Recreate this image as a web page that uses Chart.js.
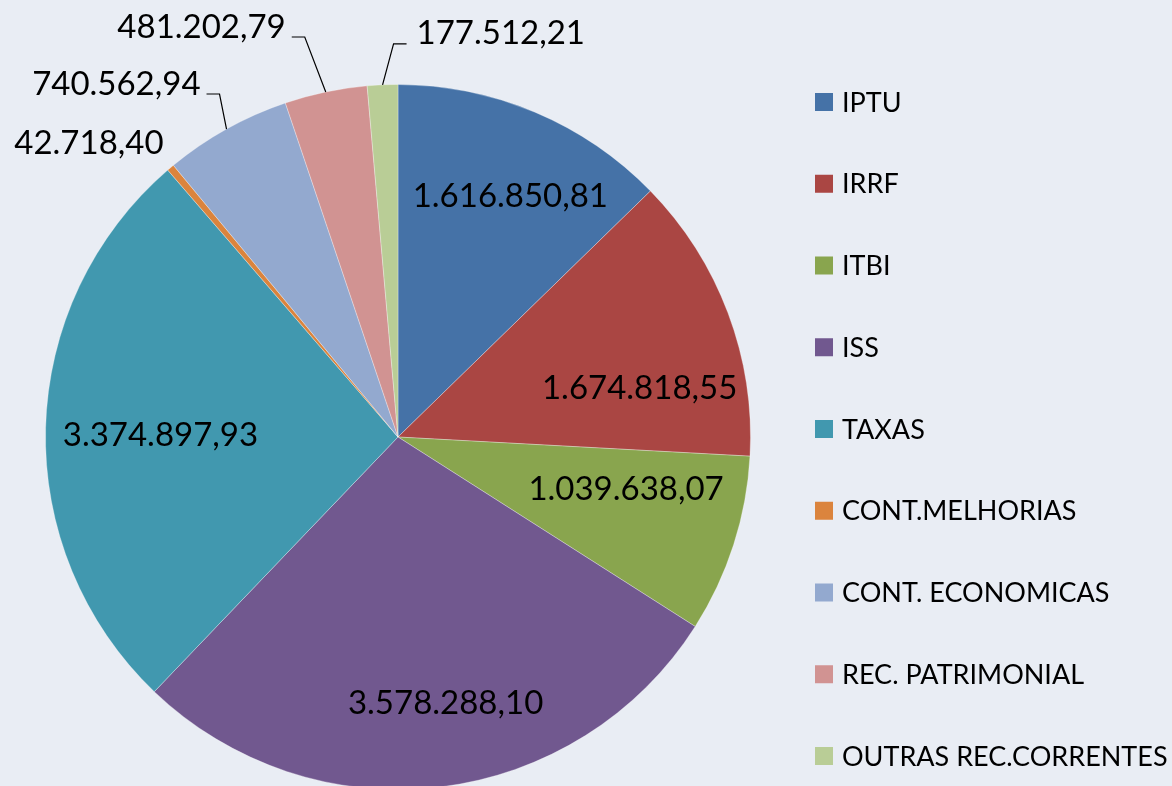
<!DOCTYPE html>
<html>
<head>
<meta charset="utf-8">
<script src="https://cdn.jsdelivr.net/npm/chart.js@4.4.0/dist/chart.umd.min.js"></script>
<style>
    html, body { margin: 0; padding: 0; background: #e9edf4; overflow: hidden; }
    #wrap { width: 1172px; height: 800px; }
</style>
</head>
<body>
<div id="wrap"><canvas id="graficoReceitas"></canvas></div>
<script>
var categorias = ['IPTU', 'IRRF', 'ITBI', 'ISS', 'TAXAS', 'CONT.MELHORIAS', 'CONT. ECONOMICAS', 'REC. PATRIMONIAL', 'OUTRAS REC.CORRENTES'];
var valores = [1616850.81, 1674818.55, 1039638.07, 3578288.10, 3374897.93, 42718.40, 740562.94, 481202.79, 177512.21];
var cores = ['#4572a7', '#aa4643', '#89a54e', '#71588f', '#4198af', '#db843d', '#93a9cf', '#d19392', '#b9cd96'];

// formato brasileiro: 1.616.850,81
function formatarValor(v) {
    var partes = v.toFixed(2).split('.');
    var inteiro = partes[0].replace(/\B(?=(\d{3})+(?!\d))/g, '.');
    return inteiro + ',' + partes[1];
}

// posicao dos rotulos (dentro: ajuste de angulo/raio, fora: cotovelo da linha guia)
var posRotulos = [
    { dentro: true, da: 2.1, rf: 0.755 },
    { dentro: true, da: 8.9, rf: 0.70 },
    { dentro: true, da: -5.2, rf: 0.663 },
    { dentro: true, da: -3.3, rf: 0.765 },
    { dentro: true, da: -0.9, rf: 0.674 },
    { dentro: false, semLinha: true, ex: -7, ey: -24 },
    { dentro: false, ex: -7, ey: -35, lado: 'esq' },
    { dentro: false, ex: -21, ey: -55, lado: 'esq' },
    { dentro: false, ex: 11, ey: -41, lado: 'dir' }
];

var pluginRotulos = {
    id: 'rotulos',
    afterDatasetsDraw: function (chart) {
        var ctx = chart.ctx;
        var arcos = chart.getDatasetMeta(0).data;
        ctx.save();
        ctx.font = '33px Lato';
        ctx.fillStyle = '#000';
        ctx.strokeStyle = '#000';
        ctx.lineWidth = 1.2;
        ctx.textBaseline = 'middle';
        arcos.forEach(function (arco, i) {
            var p = posRotulos[i];
            var texto = formatarValor(valores[i]);
            var meio = (arco.startAngle + arco.endAngle) / 2;
            if (p.dentro) {
                var a = meio + p.da * Math.PI / 180;
                var rr = arco.outerRadius * p.rf;
                ctx.textAlign = 'center';
                ctx.fillText(texto, arco.x + Math.cos(a) * rr, arco.y + Math.sin(a) * rr + 1);
                return;
            }
            var bx = arco.x + Math.cos(meio) * arco.outerRadius;
            var by = arco.y + Math.sin(meio) * arco.outerRadius;
            var cx = bx + p.ex, cy = by + p.ey;
            if (p.semLinha) {
                ctx.textAlign = 'right';
                ctx.fillText(texto, cx, cy);
                return;
            }
            var fim = p.lado === 'esq' ? cx - 13 : cx + 13;
            ctx.beginPath();
            ctx.moveTo(bx, by);
            ctx.lineTo(cx, cy);
            ctx.lineTo(fim, cy);
            ctx.stroke();
            if (p.lado === 'esq') {
                ctx.textAlign = 'right';
                ctx.fillText(texto, fim - 6, cy - 10);
            } else {
                ctx.textAlign = 'left';
                ctx.fillText(texto, fim + 10, cy - 10);
            }
        });
        ctx.restore();
    }
};

var pluginLegenda = {
    id: 'legenda',
    afterDraw: function (chart) {
        var ctx = chart.ctx;
        ctx.save();
        ctx.font = '27px Lato';
        ctx.textBaseline = 'middle';
        ctx.textAlign = 'left';
        categorias.forEach(function (nome, i) {
            var y = 102 + i * 81.75;
            ctx.fillStyle = cores[i];
            ctx.fillRect(815, y - 9, 18, 18);
            ctx.fillStyle = '#000';
            ctx.fillText(nome, 842, y + 1);
        });
        ctx.restore();
    }
};

var grafico = new Chart(document.getElementById('graficoReceitas'), {
    type: 'pie',
    data: {
        labels: categorias,
        datasets: [{
            data: valores,
            backgroundColor: cores,
            borderColor: 'rgba(255,255,255,0.3)',
            borderWidth: 1
        }]
    },
    options: {
        responsive: true,
        maintainAspectRatio: false,
        animation: false,
        layout: { padding: { left: 45, right: 421, top: 84, bottom: 10 } },
        plugins: {
            legend: { display: false },
            tooltip: { enabled: false }
        }
    },
    plugins: [pluginRotulos, pluginLegenda]
});
</script>
</body>
</html>
